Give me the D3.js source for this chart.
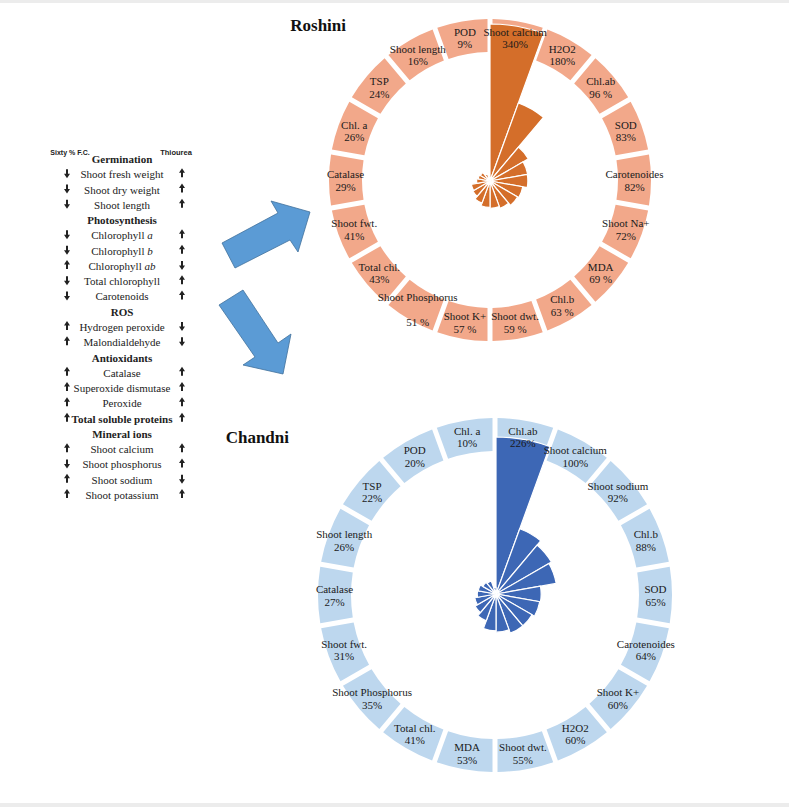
<!DOCTYPE html>
<html>
<head>
<meta charset="utf-8">
<script src="https://cdn.jsdelivr.net/npm/d3@7"></script>
<style>
  body { margin: 0; background: #fff; }
  #chart { width: 789px; height: 807px; }
</style>
</head>
<body>
<div id="chart"></div>
<script>
// Roshini (descending, clockwise from 12 o'clock)
const roshiniNames = ["Shoot calcium", "H2O2", "Chl.ab", "SOD", "Carotenoides", "Shoot Na+", "MDA", "Chl.b", "Shoot dwt.",
    "Shoot K+", "Shoot Phosphorus", "Total chl.", "Shoot fwt.", "Catalase", "Chl. a", "TSP", "Shoot length", "POD"];
const roshiniValues = [340, 180, 96, 83, 82, 72, 69, 63, 59, 57, 51, 43, 41, 29, 26, 24, 16, 9];
const roshiniPct = ["340%", "180%", "96 %", "83%", "82%", "72%", "69 %", "63 %", "59 %", "57 %", "51 %", "43%", "41%",
    "29%", "26%", "24%", "16%", "9%"];

// Chandni
const chandniNames = ["Chl.ab", "Shoot calcium", "Shoot sodium", "Chl.b", "SOD", "Carotenoides", "Shoot K+", "H2O2",
    "Shoot dwt.", "MDA", "Total chl.", "Shoot Phosphorus", "Shoot fwt.", "Catalase", "Shoot length", "TSP", "POD", "Chl. a"];
const chandniValues = [226, 100, 92, 88, 65, 64, 60, 60, 55, 53, 41, 35, 31, 27, 26, 22, 20, 10];
const chandniPct = ["226%", "100%", "92%", "88%", "65%", "64%", "60%", "60%", "55%", "53%", "41%", "35%", "31%",
    "27%", "26%", "22%", "20%", "10%"];

// left summary table
const tableRows = ["Germination", "Shoot fresh weight", "Shoot dry weight", "Shoot length", "Photosynthesis",
    "Chlorophyll a", "Chlorophyll b", "Chlorophyll ab", "Total chlorophyll", "Carotenoids", "ROS",
    "Hydrogen peroxide", "Malondialdehyde", "Antioxidants", "Catalase", "Superoxide dismutase", "Peroxide",
    "Total soluble proteins", "Mineral ions", "Shoot calcium", "Shoot phosphorus", "Shoot  sodium", "Shoot potassium"];
const fcArrows = ["", "down", "down", "down", "", "down", "down", "up", "down", "down", "",
    "up", "up", "", "up", "up", "up", "up", "", "up", "down", "up", "up"];
const thioureaArrows = ["", "up", "up", "up", "", "up", "up", "down", "up", "up", "",
    "down", "down", "", "up", "up", "up", "up", "", "up", "up", "down", "up"];
const boldRows = ["Germination", "Photosynthesis", "ROS", "Antioxidants", "Total soluble proteins", "Mineral ions"];

const W = 789, H = 807;
const serif = "'Liberation Serif', 'Times New Roman', serif";
const sans = "'Liberation Sans', Arial, sans-serif";

const svg = d3.select("#chart").append("svg")
    .attr("width", W)
    .attr("height", H);

// thin grey bands top and bottom
svg.append("rect").attr("x", 0).attr("y", 0).attr("width", W).attr("height", 3).attr("fill", "#ececec");
svg.append("rect").attr("x", 0).attr("y", H - 4).attr("width", W).attr("height", 4).attr("fill", "#ececec");

// ---- table ----
const rowY = d3.scaleLinear().domain([0, tableRows.length - 1]).range([159, 495]);
const table = svg.append("g");

table.append("text").attr("x", 70).attr("y", 152).attr("text-anchor", "middle")
    .attr("dominant-baseline", "central").attr("font-family", sans).attr("font-weight", "bold")
    .attr("font-size", "7px").attr("fill", "#222").text("Sixty % F.C.");
table.append("text").attr("x", 176).attr("y", 152).attr("text-anchor", "middle")
    .attr("dominant-baseline", "central").attr("font-family", sans).attr("font-weight", "bold")
    .attr("font-size", "7.5px").attr("fill", "#222").text("Thiourea");

tableRows.forEach((t, i) => {
    const txt = table.append("text")
        .attr("x", 122).attr("y", rowY(i))
        .attr("text-anchor", "middle").attr("dominant-baseline", "central")
        .attr("font-family", serif).attr("font-size", "11px").attr("fill", "#222")
        .attr("font-weight", boldRows.includes(t) ? "bold" : "normal");
    const m = t.match(/^(Chlorophyll )(a|b|ab)$/);
    if (m) {
        txt.append("tspan").text(m[1]);
        txt.append("tspan").attr("font-style", "italic").text(m[2]);
    } else {
        txt.text(t);
    }
});

function arrowPath(x, y, dir) {
    const s = dir === "up" ? -1 : 1;
    // head then shaft
    return `M${x - 3},${y + s * 0.5} L${x},${y + s * 5} L${x + 3},${y + s * 0.5} L${x + 1},${y + s * 0.5} ` +
        `L${x + 1},${y - s * 4} L${x - 1},${y - s * 4} L${x - 1},${y + s * 0.5} Z`;
}
tableRows.forEach((t, i) => {
    if (fcArrows[i]) table.append("path").attr("d", arrowPath(67, rowY(i) - 1, fcArrows[i])).attr("fill", "#222");
    if (thioureaArrows[i]) table.append("path").attr("d", arrowPath(182, rowY(i) - 1, thioureaArrows[i])).attr("fill", "#222");
});

// ---- big blue arrows ----
const arrowFill = "#5b9bd5", arrowStroke = "#41719c";
svg.append("polygon")
    .attr("points", "222,243 278,213 271,201 310,212 298,252 290,240 235,268")
    .attr("fill", arrowFill).attr("stroke", arrowStroke).attr("stroke-width", 0.8);
svg.append("polygon")
    .attr("points", "219,305 243,290 278,343 291,334 283,374 243,365 255,357")
    .attr("fill", arrowFill).attr("stroke", arrowStroke).attr("stroke-width", 0.8);

// ---- polar charts ----
function drawPolar(cfg) {
    const n = cfg.names.length;
    const step = 2 * Math.PI / n;
    const g = svg.append("g").attr("transform", `translate(${cfg.cx},${cfg.cy})`);

    const ring = d3.arc()
        .innerRadius(cfg.inner)
        .outerRadius(cfg.outer)
        .padAngle(0.05)
        .padRadius(100);

    g.selectAll("path.seg")
        .data(cfg.names)
        .enter()
        .append("path")
        .attr("class", "seg")
        .attr("d", (d, i) => ring({ startAngle: i * step, endAngle: (i + 1) * step }))
        .attr("fill", cfg.ringColor);

    // inner bars
    const r = d3.scaleLinear().domain([0, d3.max(cfg.values)]).range([0, cfg.barMax]);
    const bar = d3.arc().innerRadius(0);
    const bg = svg.append("g").attr("transform", `translate(${cfg.bx},${cfg.by})`);
    bg.selectAll("path")
        .data(cfg.values)
        .enter()
        .append("path")
        .attr("d", (v, i) => bar({ outerRadius: r(v), startAngle: i * step, endAngle: (i + 1) * step }))
        .attr("fill", cfg.barColor)
        .attr("stroke", "#fff")
        .attr("stroke-width", 1.2)
        .attr("stroke-linejoin", "round");

    // labels on top of everything
    const lg = svg.append("g").attr("transform", `translate(${cfg.cx},${cfg.cy})`);
    const lab = lg.selectAll("g.lab")
        .data(cfg.names)
        .enter()
        .append("g")
        .attr("class", "lab")
        .attr("transform", (d, i) => {
            const a = (i + 0.5) * step;
            return `translate(${Math.sin(a) * cfg.labelR},${-Math.cos(a) * cfg.labelR})`;
        });
    lab.append("text")
        .attr("y", d => cfg.split === d ? -8 : -6)
        .attr("text-anchor", "middle")
        .attr("dominant-baseline", "central")
        .attr("font-family", serif).attr("font-size", "11px").attr("fill", "#1a1a1a")
        .text(d => d);
    lab.append("text")
        .attr("y", d => cfg.split === d ? 17 : 6.5)
        .attr("text-anchor", "middle")
        .attr("dominant-baseline", "central")
        .attr("font-family", serif).attr("font-size", "11px").attr("fill", "#1a1a1a")
        .text((d, i) => cfg.pct[i]);

    svg.append("text")
        .attr("x", cfg.titleX).attr("y", cfg.titleY)
        .attr("text-anchor", "end").attr("dominant-baseline", "central")
        .attr("font-family", serif).attr("font-weight", "bold").attr("font-size", "17px")
        .attr("fill", "#111").text(cfg.title);
}

drawPolar({
    title: "Roshini", titleX: 346, titleY: 25,
    names: roshiniNames, values: roshiniValues, pct: roshiniPct,
    cx: 490, cy: 180, outer: 161, inner: 128, labelR: 144.5,
    bx: 490, by: 181, barMax: 157,
    ringColor: "#f2a88a", barColor: "#d46e2a",
    split: "Shoot Phosphorus"
});

drawPolar({
    title: "Chandni", titleX: 289, titleY: 437,
    names: chandniNames, values: chandniValues, pct: chandniPct,
    cx: 495, cy: 595, outer: 177, inner: 144, labelR: 160.5,
    bx: 496, by: 594, barMax: 157,
    ringColor: "#bdd7ee", barColor: "#3d67b5",
    split: null
});
</script>
</body>
</html>
